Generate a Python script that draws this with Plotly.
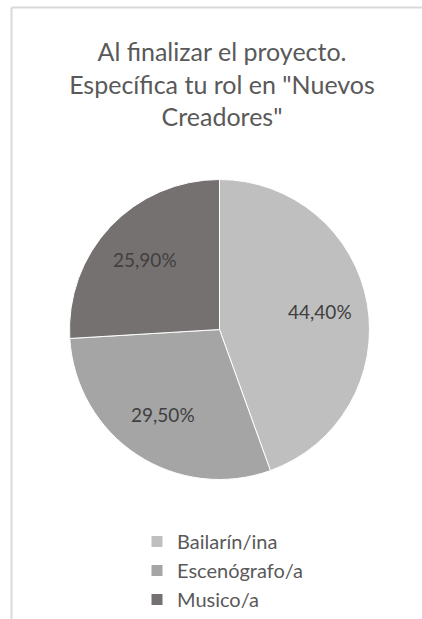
import math
import plotly.graph_objects as go

# Role distribution at the end of the project
roles = ["Bailarín/ina", "Escenógrafo/a", "Musico/a"]
shares = [44.4, 29.5, 25.9]
share_labels = ["44,40%", "29,50%", "25,90%"]
slice_colors = ["#bfbfbf", "#a5a5a5", "#767171"]

W, H = 422, 619
FONT = "Lato, 'Open Sans', sans-serif"

# pie geometry in pixels (centre and radius)
cx, cy, r = 219.5, 329.5, 150
LABEL_RADIUS = 0.68  # fraction of the radius where value labels sit

fig = go.Figure(
    go.Pie(
        labels=roles,
        values=shares,
        textinfo="none",
        marker=dict(colors=slice_colors, line=dict(color="#ffffff", width=1)),
        sort=False,
        direction="clockwise",
        rotation=0,
        hoverinfo="label+percent",
        domain=dict(
            x=[(cx - r) / W, (cx + r) / W],
            y=[1 - (cy + r) / H, 1 - (cy - r) / H],
        ),
    )
)

# value labels placed at the middle angle of each slice (clockwise from 12 o'clock)
total = sum(shares)
annotations = []
start = 0.0
for value, label in zip(shares, share_labels):
    mid = (start + value / 2) / total * 2 * math.pi
    start += value
    px = cx + LABEL_RADIUS * r * math.sin(mid)
    py = cy - LABEL_RADIUS * r * math.cos(mid)
    annotations.append(
        dict(
            x=px / W,
            y=1 - py / H,
            xref="paper",
            yref="paper",
            text=label,
            showarrow=False,
            xanchor="center",
            yanchor="middle",
            font=dict(family=FONT, size=19, color="#404040"),
        )
    )

fig.update_layout(
    width=W,
    height=H,
    margin=dict(l=0, r=0, t=0, b=0),
    paper_bgcolor="#ffffff",
    plot_bgcolor="#ffffff",
    font=dict(family=FONT, color="#595959"),
    title=dict(
        text="Al finalizar el proyecto.<br>Específica tu rol en \"Nuevos<br>Creadores\"",
        x=222 / W,
        xanchor="center",
        y=1 - 61 / H,
        yanchor="top",
        font=dict(family=FONT, size=25, color="#595959"),
    ),
    showlegend=True,
    legend=dict(
        orientation="v",
        x=137 / W,
        xanchor="left",
        y=0,
        yanchor="bottom",
        font=dict(family=FONT, size=20, color="#595959"),
        bgcolor="rgba(0,0,0,0)",
        tracegroupgap=0,
    ),
    annotations=annotations,
    shapes=[
        dict(type="line", xref="paper", yref="paper",
             x0=11.5 / W, x1=1, y0=1 - 7.5 / H, y1=1 - 7.5 / H,
             line=dict(color="#d9d9d9", width=2)),
        dict(type="line", xref="paper", yref="paper",
             x0=11.5 / W, x1=11.5 / W, y0=0, y1=1 - 7.5 / H,
             line=dict(color="#d9d9d9", width=2)),
    ],
)

fig.write_html("out.html")
